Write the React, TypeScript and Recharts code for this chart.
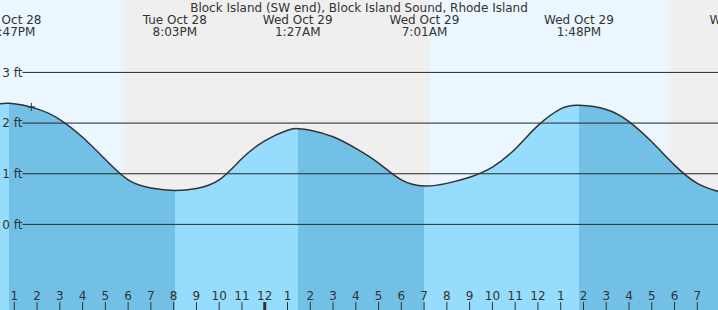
import React from "react";
import {
  ComposedChart,
  Area,
  XAxis,
  YAxis,
  ReferenceLine,
  ReferenceArea,
  ReferenceDot,
} from "recharts";

// hours since Oct 28 00:00
const hours = [
  12, 13, 14, 15, 16, 17, 18, 19, 20, 21, 22, 23, 24, 25, 26, 27, 28, 29, 30,
  31, 32, 33, 34, 35, 36, 37, 38, 39, 40, 41, 42, 43, 44,
];
const hourlyFeet = [
  2.35, 2.38, 2.28, 2.07, 1.72, 1.28, 0.88, 0.72, 0.67, 0.71, 0.88, 1.3, 1.65,
  1.86, 1.86, 1.73, 1.5, 1.21, 0.88, 0.76, 0.81, 0.93, 1.13, 1.49, 1.95, 2.28,
  2.34, 2.27, 2.03, 1.63, 1.17, 0.81, 0.64,
];

// highs and lows
const extremeTimes = [12.783, 20.05, 25.45, 31.017, 37.8, 45.07];
const extremeFeet = [2.39, 0.67, 1.89, 0.76, 2.35, 0.6];
const extremeIsHigh = [true, false, true, false, true, false];
const extremeDays = ["Tue Oct 28", "Tue Oct 28", "Wed Oct 29", "Wed Oct 29", "Wed Oct 29", "Wed Oct 29"];
const extremeClock = ["12:47PM", "8:03PM", "1:27AM", "7:01AM", "1:48PM", "9:04PM"];

// night shading
const nightStarts = [17.79, 41.75];
const nightEnds = [31.22, 44];

const hourTicks = [
  13, 14, 15, 16, 17, 18, 19, 20, 21, 22, 23, 24, 25, 26, 27, 28, 29, 30, 31,
  32, 33, 34, 35, 36, 37, 38, 39, 40, 41, 42, 43,
];
const hourLabels = [
  "1", "2", "3", "4", "5", "6", "7", "8", "9", "10", "11", "12", "1", "2", "3",
  "4", "5", "6", "7", "8", "9", "10", "11", "12", "1", "2", "3", "4", "5", "6", "7",
];

const footLevels = [0, 1, 2, 3];
const footLabels = ["0 ft", "1 ft", "2 ft", "3 ft"];

const nowTime = 13.75;
const nowFeet = 2.32;

const X_DOMAIN: [number, number] = [12.372, 43.909];
const Y_DOMAIN: [number, number] = [-1.69, 4.43];
const GRID_START = 13.36;

const FONT = "'DejaVu Sans', sans-serif";
const TEXT = "#333";
const RISING = "#96dcfc";
const FALLING = "#72c0e6";

// hourly readings plus the highs/lows; drop an hourly reading sitting right next to an extreme
const nearExtreme = (t: number) => extremeTimes.some((e) => Math.abs(e - t) < 0.35);
const data = [
  ...hours.map((t, i) => ({ t, ft: hourlyFeet[i] })).filter((d) => !nearExtreme(d.t)),
  ...extremeTimes
    .map((t, i) => ({ t, ft: extremeFeet[i] }))
    .filter((d) => d.t >= hours[0] && d.t <= hours[hours.length - 1]),
].sort((a, b) => a.t - b.t);

// hard colour stops at every high / low
const t0 = data[0].t;
const t1 = data[data.length - 1].t;
const off = (t: number) => Math.min(1, Math.max(0, (t - t0) / (t1 - t0)));
const stops: { offset: number; color: string }[] = [];
{
  let from = t0;
  let color = extremeIsHigh[0] ? RISING : FALLING;
  extremeTimes.forEach((t, i) => {
    if (t <= t0 || t >= t1) return;
    stops.push({ offset: off(from), color }, { offset: off(t), color });
    from = t;
    color = extremeIsHigh[i] ? FALLING : RISING;
  });
  stops.push({ offset: off(from), color }, { offset: 1, color });
}

const HourTick = (props: any) => {
  const { x, y, payload, index } = props;
  const midnight = payload.value % 24 === 0;
  return (
    <g>
      <line x1={x} x2={x} y1={y - 8} y2={y} stroke={TEXT} strokeWidth={midnight ? 3 : 1} />
      <text x={x} y={y - 10} textAnchor="middle" fontFamily={FONT} fontSize={12} fill={TEXT}>
        {hourLabels[index] ?? ""}
      </text>
    </g>
  );
};

const extremeLabel = (i: number) => (p: any) => {
  const vb = p.viewBox || {};
  return (
    <text textAnchor="middle" fontFamily={FONT} fontSize={12} fill={TEXT}>
      <tspan x={vb.x} y={(vb.y ?? 0) + 24}>{extremeDays[i]}</tspan>
      <tspan x={vb.x} y={(vb.y ?? 0) + 36}>{extremeClock[i]}</tspan>
    </text>
  );
};

const Cross = (p: any) => (
  <path
    d={`M${p.cx - 4},${p.cy}H${p.cx + 4}M${p.cx},${p.cy - 4}V${p.cy + 4}`}
    stroke={TEXT}
    strokeWidth={1}
  />
);

export default function App() {
  return (
    <div style={{ position: "absolute", left: 0, top: 0, width: 718, height: 310, background: "#ebf6fe" }}>
      <ComposedChart width={718} height={310} data={data} margin={{ top: 0, right: 0, bottom: 0, left: 0 }}>
        <defs>
          <linearGradient id="tideFill" x1="0" y1="0" x2="1" y2="0">
            {stops.map((s, i) => (
              <stop key={i} offset={s.offset} stopColor={s.color} />
            ))}
          </linearGradient>
        </defs>
        <XAxis
          type="number"
          dataKey="t"
          domain={X_DOMAIN}
          allowDataOverflow
          ticks={hourTicks}
          interval={0}
          height={20}
          mirror
          tickSize={0}
          tickMargin={0}
          axisLine={false}
          tickLine={false}
          tick={<HourTick />}
        />
        <YAxis type="number" domain={Y_DOMAIN} allowDataOverflow hide width={0} />
        {nightStarts.map((s, i) => (
          <ReferenceArea key={`n${i}`} x1={s} x2={nightEnds[i]} fill="#efefef" fillOpacity={1} stroke="none" ifOverflow="hidden" />
        ))}
        {footLevels.map((v) => (
          <ReferenceLine
            key={`g${v}`}
            segment={[{ x: GRID_START, y: v }, { x: X_DOMAIN[1], y: v }]}
            stroke={TEXT}
            strokeWidth={1}
          />
        ))}
        <Area
          type="natural"
          dataKey="ft"
          baseValue={Y_DOMAIN[0]}
          stroke={TEXT}
          strokeWidth={1.5}
          fill="url(#tideFill)"
          fillOpacity={1}
          dot={false}
          activeDot={false}
          isAnimationActive={false}
        />
        {footLevels.map((v, i) => (
          <ReferenceLine
            key={`f${v}`}
            segment={[{ x: GRID_START, y: v }, { x: X_DOMAIN[1], y: v }]}
            stroke="#000"
            strokeOpacity={0.1}
            label={{ value: footLabels[i], position: "left", offset: 0, fontFamily: FONT, fontSize: 12, fill: TEXT }}
          />
        ))}
        <ReferenceDot x={nowTime} y={nowFeet} shape={<Cross />} />
        {extremeTimes.map((t, i) => (
          <ReferenceLine key={`e${i}`} x={t} stroke="none" ifOverflow="visible" label={{ content: extremeLabel(i) }} />
        ))}
      </ComposedChart>
      <div
        style={{
          position: "absolute",
          left: 0,
          top: 1,
          width: 718,
          textAlign: "center",
          fontFamily: FONT,
          fontSize: 12,
          lineHeight: "14px",
          color: TEXT,
          pointerEvents: "none",
        }}
      >
        Block Island (SW end), Block Island Sound, Rhode Island
      </div>
    </div>
  );
}
